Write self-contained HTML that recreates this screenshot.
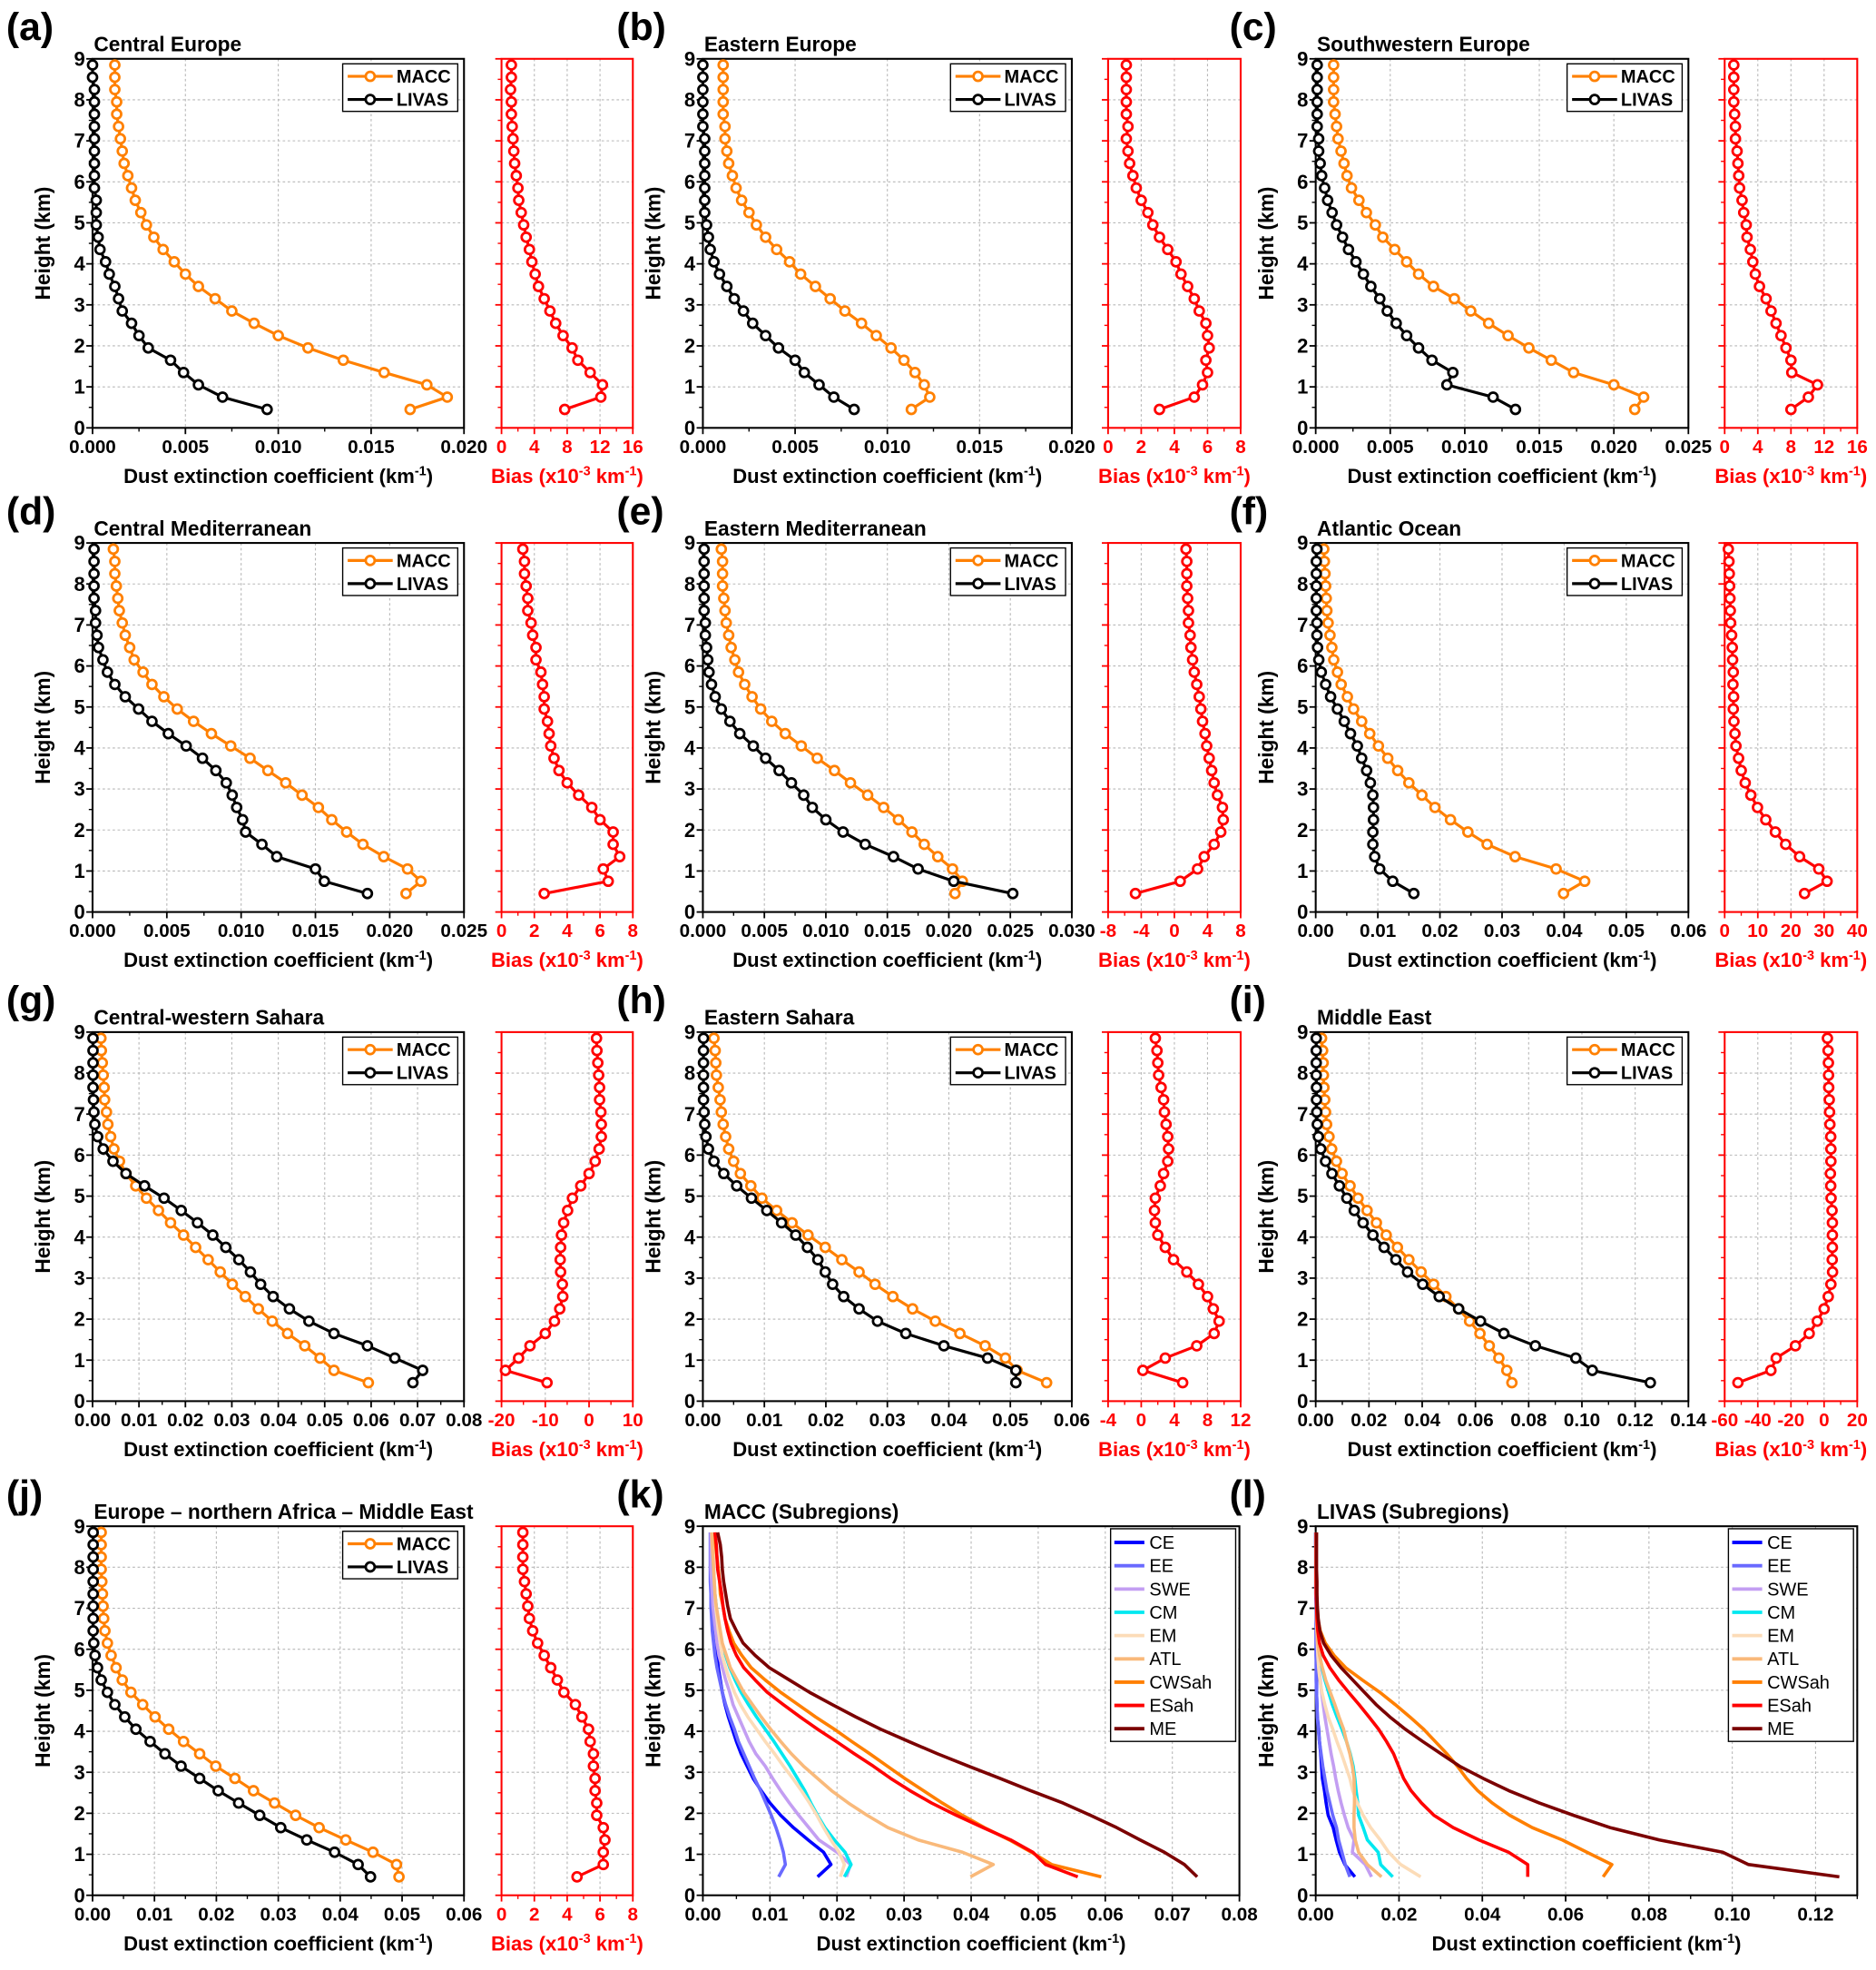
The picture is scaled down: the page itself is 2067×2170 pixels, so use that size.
<!DOCTYPE html>
<html><head><meta charset="utf-8"><style>
html,body{margin:0;padding:0;background:#fff}
svg{display:block;font-family:"Liberation Sans",Arial,sans-serif}
</style></head><body>
<svg id="fig" xmlns="http://www.w3.org/2000/svg" width="2067" height="2170" viewBox="0 0 1500 1574.7"></svg>
<script>
const heights=[0.45,0.75,1.05,1.35,1.65,1.95,2.25,2.55,2.85,3.15,3.45,3.75,4.05,4.35,4.65,4.95,5.25,5.55,5.85,6.15,6.45,6.75,7.05,7.35,7.65,7.95,8.25,8.55,8.85];
const CE_M=[0.0171,0.0191,0.0180,0.0157,0.0135,0.0116,0.0100,0.0087,0.0075,0.0066,0.0057,0.0050,0.0044,0.0038,0.0033,0.0029,0.0026,0.0023,0.0021,0.0019,0.0017,0.0016,0.0015,0.0014,0.0013,0.0013,0.0012,0.0012,0.0012];
const CE_L=[0.0094,0.0070,0.0057,0.0049,0.0042,0.0030,0.0025,0.0021,0.0016,0.0014,0.0012,0.0009,0.0007,0.0004,0.0003,0.0002,0.0002,0.0002,0.0001,0.0001,0.0001,0.0001,0.0001,0.0001,0.0001,0.0001,0.0001,0.0000,0.0000];
const EE_M=[0.0113,0.0123,0.0120,0.0115,0.0109,0.0102,0.0094,0.0086,0.0077,0.0069,0.0061,0.0053,0.0047,0.0040,0.0034,0.0029,0.0025,0.0021,0.0018,0.0016,0.0014,0.0013,0.0012,0.0012,0.0011,0.0011,0.0011,0.0011,0.0011];
const EE_L=[0.0082,0.0071,0.0063,0.0055,0.0050,0.0041,0.0034,0.0027,0.0022,0.0017,0.0013,0.0009,0.0006,0.0004,0.0003,0.0002,0.0001,0.0001,0.0001,0.0001,0.0001,0.0001,0.0001,0.0000,0.0000,0.0000,0.0000,0.0000,0.0000];
const SWE_M=[0.0214,0.0220,0.0200,0.0173,0.0158,0.0143,0.0129,0.0116,0.0104,0.0093,0.0079,0.0069,0.0061,0.0053,0.0045,0.0040,0.0034,0.0029,0.0024,0.0021,0.0019,0.0017,0.0015,0.0014,0.0013,0.0012,0.0012,0.0012,0.0012];
const SWE_L=[0.0134,0.0119,0.0088,0.0092,0.0078,0.0069,0.0061,0.0054,0.0048,0.0043,0.0037,0.0032,0.0027,0.0022,0.0018,0.0014,0.0011,0.0008,0.0006,0.0004,0.0003,0.0002,0.0002,0.0001,0.0001,0.0001,0.0001,0.0001,0.0001];
const CM_M=[0.0211,0.0221,0.0212,0.0196,0.0182,0.0171,0.0161,0.0152,0.0141,0.0130,0.0118,0.0106,0.0093,0.0080,0.0068,0.0057,0.0048,0.0040,0.0034,0.0028,0.0025,0.0022,0.0020,0.0018,0.0017,0.0016,0.0015,0.0015,0.0014];
const CM_L=[0.0185,0.0156,0.0150,0.0124,0.0114,0.0103,0.0101,0.0097,0.0094,0.0090,0.0083,0.0074,0.0063,0.0051,0.0040,0.0031,0.0022,0.0015,0.0010,0.0007,0.0004,0.0003,0.0002,0.0002,0.0001,0.0001,0.0001,0.0001,0.0001];
const EM_M=[0.0205,0.0211,0.0203,0.0191,0.0180,0.0170,0.0159,0.0147,0.0134,0.0120,0.0107,0.0093,0.0080,0.0067,0.0056,0.0047,0.0040,0.0034,0.0029,0.0026,0.0023,0.0021,0.0019,0.0018,0.0017,0.0016,0.0016,0.0016,0.0015];
const EM_L=[0.0252,0.0204,0.0175,0.0155,0.0132,0.0114,0.0100,0.0089,0.0082,0.0072,0.0062,0.0051,0.0041,0.0030,0.0022,0.0015,0.0010,0.0007,0.0005,0.0004,0.0003,0.0002,0.0002,0.0001,0.0001,0.0001,0.0001,0.0001,0.0001];
const ATL_M=[0.0399,0.0433,0.0387,0.0321,0.0276,0.0245,0.0217,0.0192,0.0171,0.0150,0.0132,0.0116,0.0101,0.0087,0.0074,0.0061,0.0051,0.0041,0.0035,0.0029,0.0026,0.0023,0.0020,0.0018,0.0017,0.0016,0.0015,0.0014,0.0013];
const ATL_L=[0.0158,0.0124,0.0103,0.0095,0.0092,0.0092,0.0093,0.0093,0.0092,0.0088,0.0082,0.0074,0.0067,0.0056,0.0046,0.0035,0.0024,0.0016,0.0009,0.0005,0.0003,0.0002,0.0002,0.0001,0.0001,0.0001,0.0001,0.0001,0.0002];
const CWS_M=[0.0594,0.0520,0.0490,0.0457,0.0420,0.0387,0.0357,0.0329,0.0301,0.0275,0.0249,0.0222,0.0196,0.0168,0.0142,0.0116,0.0093,0.0072,0.0058,0.0046,0.0039,0.0033,0.0030,0.0026,0.0025,0.0023,0.0021,0.0019,0.0018];
const CWS_L=[0.0690,0.0711,0.0651,0.0592,0.0520,0.0466,0.0424,0.0389,0.0362,0.0340,0.0315,0.0287,0.0259,0.0226,0.0191,0.0154,0.0112,0.0072,0.0044,0.0023,0.0011,0.0005,0.0003,0.0002,0.0001,0.0001,0.0001,0.0001,0.0001];
const ES_M=[0.0559,0.0511,0.0492,0.0459,0.0418,0.0378,0.0341,0.0309,0.0280,0.0254,0.0226,0.0199,0.0171,0.0145,0.0120,0.0096,0.0078,0.0061,0.0050,0.0042,0.0037,0.0033,0.0030,0.0028,0.0025,0.0022,0.0021,0.0020,0.0018];
const ES_L=[0.0509,0.0509,0.0463,0.0392,0.0330,0.0284,0.0254,0.0229,0.0211,0.0199,0.0187,0.0170,0.0151,0.0128,0.0104,0.0079,0.0055,0.0034,0.0018,0.0009,0.0005,0.0003,0.0002,0.0001,0.0001,0.0001,0.0001,0.0001,0.0001];
const ME_M=[0.0737,0.0718,0.0688,0.0652,0.0617,0.0578,0.0537,0.0489,0.0443,0.0396,0.0350,0.0307,0.0265,0.0228,0.0193,0.0159,0.0129,0.0099,0.0078,0.0060,0.0050,0.0041,0.0037,0.0034,0.0031,0.0029,0.0028,0.0026,0.0022];
const ME_L=[0.1257,0.1039,0.0977,0.0825,0.0707,0.0619,0.0537,0.0464,0.0402,0.0345,0.0301,0.0257,0.0215,0.0178,0.0145,0.0117,0.0089,0.0061,0.0037,0.0019,0.0010,0.0006,0.0004,0.0003,0.0003,0.0002,0.0002,0.0002,0.0002];
const ALL_M=[0.0495,0.0491,0.0453,0.0409,0.0366,0.0328,0.0294,0.0260,0.0230,0.0199,0.0173,0.0147,0.0123,0.0101,0.0081,0.0062,0.0048,0.0038,0.0030,0.0024,0.0020,0.0018,0.0017,0.0016,0.0015,0.0014,0.0014,0.0014,0.0014];
const ALL_L=[0.0449,0.0429,0.0391,0.0346,0.0304,0.0270,0.0236,0.0203,0.0173,0.0143,0.0117,0.0093,0.0070,0.0052,0.0036,0.0024,0.0014,0.0008,0.0004,0.0002,0.0001,0.0001,0.0001,0.0001,0.0001,0.0001,0.0001,0.0001,0.0001];
const subNames=['CE','EE','SWE','CM','EM','ATL','CWSah','ESah','ME'];
const subMacc=[CE_M,EE_M,SWE_M,CM_M,EM_M,ATL_M,CWS_M,ES_M,ME_M];
const subLivas=[CE_L,EE_L,SWE_L,CM_L,EM_L,ATL_L,CWS_L,ES_L,ME_L];
const subColors=['#0000ff','#6a6aff','#c39ef2','#00e8f0','#fcdcb8','#f9b97a','#ff7f00','#ff0000','#7b0000'];
const heightTicks=[0,1,2,3,4,5,6,7,8,9];

const NS='http://www.w3.org/2000/svg';
const svg=document.getElementById('fig');
function el(tag,attrs,parent){const e=document.createElementNS(NS,tag);for(const k in attrs)e.setAttribute(k,attrs[k]);(parent||svg).appendChild(e);return e;}

const colsMain=[[74,371],[562,857],[1052,1350]];
const colsBias=[[401,506],[886,992],[1379,1485]];
const rowTops=[47,434,825,1220];
const AH=295;
const ORANGE='#ff8000';

const panels=[
 {id:'a',title:'Central Europe',M:CE_M,L:CE_L,c:0,r:0,xr:[0.02,0.005,3],br:[0,16,4]},
 {id:'b',title:'Eastern Europe',M:EE_M,L:EE_L,c:1,r:0,xr:[0.02,0.005,3],br:[0,8,2]},
 {id:'c',title:'Southwestern Europe',M:SWE_M,L:SWE_L,c:2,r:0,xr:[0.025,0.005,3],br:[0,16,4]},
 {id:'d',title:'Central Mediterranean',M:CM_M,L:CM_L,c:0,r:1,xr:[0.025,0.005,3],br:[0,8,2]},
 {id:'e',title:'Eastern Mediterranean',M:EM_M,L:EM_L,c:1,r:1,xr:[0.03,0.005,3],br:[-8,8,4]},
 {id:'f',title:'Atlantic Ocean',M:ATL_M,L:ATL_L,c:2,r:1,xr:[0.06,0.01,2],br:[0,40,10]},
 {id:'g',title:'Central-western Sahara',M:CWS_M,L:CWS_L,c:0,r:2,xr:[0.08,0.01,2],br:[-20,10,10]},
 {id:'h',title:'Eastern Sahara',M:ES_M,L:ES_L,c:1,r:2,xr:[0.06,0.01,2],br:[-4,12,4]},
 {id:'i',title:'Middle East',M:ME_M,L:ME_L,c:2,r:2,xr:[0.14,0.02,2],br:[-60,20,20]},
 {id:'j',title:'Europe \u2013 northern Africa \u2013 Middle East',M:ALL_M,L:ALL_L,c:0,r:3,xr:[0.06,0.01,2],br:[0,8,2]}
];

function axes(x0,x1,y0,y1,xmin,xmax,step,dec,color,name,ylabels){
  const g=el('g',{});
  
  
  const sx=v=>x0+(v-xmin)/(xmax-xmin)*(x1-x0);
  const sy=v=>y1-v/9*(y1-y0);
  const n=Math.round((xmax-xmin)/step+1e-9);
  for(let i=0;i<=n;i++){const v=xmin+i*step;const x=sx(v);
    if(i>0&&i<n){const gl=el('line',{x1:x,x2:x,y1:y0,y2:y1,stroke:'#b8b8b8','stroke-width':0.8,'stroke-dasharray':'2,2'},g);
      
      }
    const t=el('line',{x1:x,x2:x,y1:y1,y2:y1+5,stroke:color,'stroke-width':1.3},g);
    
    
    if(v<=xmax+1e-9){const tx=el('text',{x:x,y:y1+20,'text-anchor':'middle','font-size':15,'font-weight':'bold',fill:color},g);
      tx.textContent=(Math.abs(v)<1e-12?0:v).toFixed(dec);
      
      }
    if(i<n){const xm=sx(v+step/2);if(xm<=x1){const m=el('line',{x1:xm,x2:xm,y1:y1,y2:y1+3,stroke:color,'stroke-width':1},g);
      
      }}
  }
  if(sx(xmin+n*step)<x1-2){
    for(let v=xmin+n*step+step/2;sx(v)<=x1+0.1;v+=step/2){const m=el('line',{x1:sx(v),x2:sx(v),y1:y1,y2:y1+3,stroke:color,'stroke-width':1},g);
      
      }
  }
  heightTicks.forEach(h=>{const y=sy(h);
    if(h>0&&h<9){const gl=el('line',{x1:x0,x2:x1,y1:y,y2:y,stroke:'#b8b8b8','stroke-width':0.8,'stroke-dasharray':'2,2'},g);
      
      }
    const t=el('line',{x1:x0-5,x2:x0,y1:y,y2:y,stroke:color,'stroke-width':1.3},g);
    
    
    if(h<9){const m=el('line',{x1:x0-3,x2:x0,y1:sy(h+0.5),y2:sy(h+0.5),stroke:color,'stroke-width':1},g);
      
      }
    if(ylabels){const tx=el('text',{x:x0-6,y:y+5.5,'text-anchor':'end','font-size':16,'font-weight':'bold',fill:'#000'},g);
      tx.textContent=h;
      
      }
  });
  const fr=el('rect',{x:x0,y:y0,width:x1-x0,height:y1-y0,fill:'none',stroke:color,'stroke-width':1.5},g);
  
  
  return {sx,sy};
}
function series(sx,sy,xs,color,name,markers){
  const pts=xs.map((v,i)=>sx(v).toFixed(2)+','+sy(heights[i]).toFixed(2)).join(' ');
  const pl=el('polyline',{points:pts,fill:'none',stroke:color,'stroke-width':markers?2.3:2.6,'stroke-linejoin':'round'});
  
  
  if(markers){xs.forEach((v,i)=>{const c=el('circle',{cx:sx(v),cy:sy(heights[i]),r:3.6,fill:'#fff',stroke:color,'stroke-width':2.0});
    
    });}
}
function ytitle(x0,y0,y1){const t=el('text',{x:0,y:0,transform:`translate(${x0-34},${(y0+y1)/2}) rotate(-90)`,'text-anchor':'middle','font-size':16.5,'font-weight':'bold'});
  t.textContent='Height (km)';
  
  }
function xtitle(x0,x1,y1){const t=el('text',{x:(x0+x1)/2,y:y1+44,'text-anchor':'middle','font-size':16,'font-weight':'bold'});
  t.innerHTML='Dust extinction coefficient (km<tspan dy="-6" font-size="10.5">-1</tspan><tspan dy="6">)</tspan>';
  
  }
function header(id,title,x0,y0){
  const l=el('text',{x:x0-69,y:y0-15,'font-size':31,'font-weight':'bold'});
  l.textContent='('+id+')';
  
  
  const t=el('text',{x:x0+1,y:y0-6,'font-size':16.5,'font-weight':'bold'});
  t.textContent=title;
  
  
}

panels.forEach(p=>{
  const [x0,x1]=colsMain[p.c];const y0=rowTops[p.r],y1=y0+AH;
  header(p.id,p.title,x0,y0);
  const a=axes(x0,x1,y0,y1,0,p.xr[0],p.xr[1],p.xr[2],'#000','panel-'+p.id+'-main',true);
  series(a.sx,a.sy,p.M,ORANGE,'macc-'+p.id,true);
  series(a.sx,a.sy,p.L,'#000','livas-'+p.id,true);
  ytitle(x0,y0,y1);xtitle(x0,x1,y1);
  const lg=el('g',{});
  
  
  const bx=x1-97,by=y0+4;
  const box=el('rect',{x:bx,y:by,width:92,height:38,fill:'#fff',stroke:'#000','stroke-width':1},lg);
  
  
  [['MACC',ORANGE],['LIVAS','#000']].forEach((e,i)=>{const yy=by+10+i*18.5;
    const ln=el('line',{x1:bx+4,x2:bx+40,y1:yy,y2:yy,stroke:e[1],'stroke-width':2.3},lg);
    
    
    const c=el('circle',{cx:bx+22,cy:yy,r:3.6,fill:'#fff',stroke:e[1],'stroke-width':2},lg);
    
    
    const t=el('text',{x:bx+43,y:yy+5,'font-size':14.5,'font-weight':'bold'},lg);
    t.textContent=e[0];
    
    });
  const [b0,b1]=colsBias[p.c];
  const ba=axes(b0,b1,y0,y1,p.br[0],p.br[1],p.br[2],0,'#ff0000','panel-'+p.id+'-bias',false);
  const bias=p.M.map((m,i)=>(m-p.L[i])*1000);
  series(ba.sx,ba.sy,bias,'#ff0000','bias-'+p.id,true);
  const bt=el('text',{x:(b0+b1)/2,y:y1+44,'text-anchor':'middle','font-size':16,'font-weight':'bold',fill:'#ff0000'});
  bt.innerHTML='Bias (x10<tspan dy="-6" font-size="10.5">-3</tspan><tspan dy="6"> km</tspan><tspan dy="-6" font-size="10.5">-1</tspan><tspan dy="6">)</tspan>';
  
  
});

function subPanel(id,title,x0,x1,xmax,data){
  const y0=rowTops[3],y1=y0+AH;
  header(id,title,x0,y0);
  const a=axes(x0,x1,y0,y1,0,xmax,xmax>0.1?0.02:0.01,2,'#000','panel-'+id,true);
  data.forEach((d,i)=>series(a.sx,a.sy,d,subColors[i],id+'-'+subNames[i],false));
  ytitle(x0,y0,y1);xtitle(x0,x1,y1);
  const lg=el('g',{});
  
  
  const bx=x1-103,by=y0+2;
  const box=el('rect',{x:bx,y:by,width:100,height:170,fill:'#fff',stroke:'#000','stroke-width':1},lg);
  
  
  subNames.forEach((n,i)=>{const yy=by+11+i*18.6;
    const ln=el('line',{x1:bx+3,x2:bx+27,y1:yy,y2:yy,stroke:subColors[i],'stroke-width':2.8},lg);
    
    
    const t=el('text',{x:bx+31,y:yy+5,'font-size':14.5},lg);
    t.textContent=n;
    
    });
}
subPanel('k','MACC (Subregions)',562,991,0.08,subMacc);
subPanel('l','LIVAS (Subregions)',1052,1485,0.13,subLivas);
</script>
</body></html>
